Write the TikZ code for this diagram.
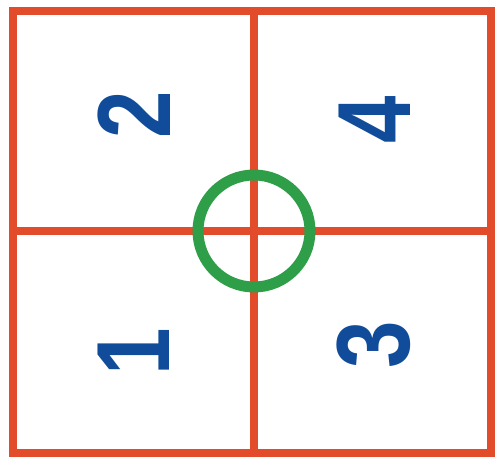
\documentclass[tikz,border=0pt]{standalone}
\usepackage{xcolor}
\usepackage{graphicx}
\usepackage{tikz}
\usepackage{fontspec}
\setmainfont{Liberation Sans}

\definecolor{gridred}{RGB}{226,76,42}
\definecolor{digitblue}{RGB}{16,76,154}
\definecolor{ringgreen}{RGB}{46,158,72}

\newcommand{\quadnum}[1]{\scalebox{0.82}[1]{#1}}

\begin{document}
\begin{tikzpicture}[x=1pt,y=1pt,
    digit/.style={text=digitblue, rotate=90, inner sep=0pt,
      font=\fontsize{104}{104}\selectfont\bfseries}]
    \useasboundingbox (0,0) rectangle (500,462);

    % outer frame and cross
    \draw[gridred, line width=8pt] (12.5,9) rectangle (491,451);
    \draw[gridred, line width=8pt] (254,9) -- (254,451);
    \draw[gridred, line width=8pt] (12.5,231) -- (491,231);

    % center ring
    \draw[ringgreen, line width=11pt] (254,231) circle (56);

    % quadrant numbers
    \node[digit] (two) at (134,347) {\quadnum{2}};
    \node[digit] (four) at (375,342) {\quadnum{4}};
    \node[digit] (one) at (134,110) {\quadnum{1}};
    \node[digit] (three) at (374,117) {\quadnum{3}};
\end{tikzpicture}
\end{document}
